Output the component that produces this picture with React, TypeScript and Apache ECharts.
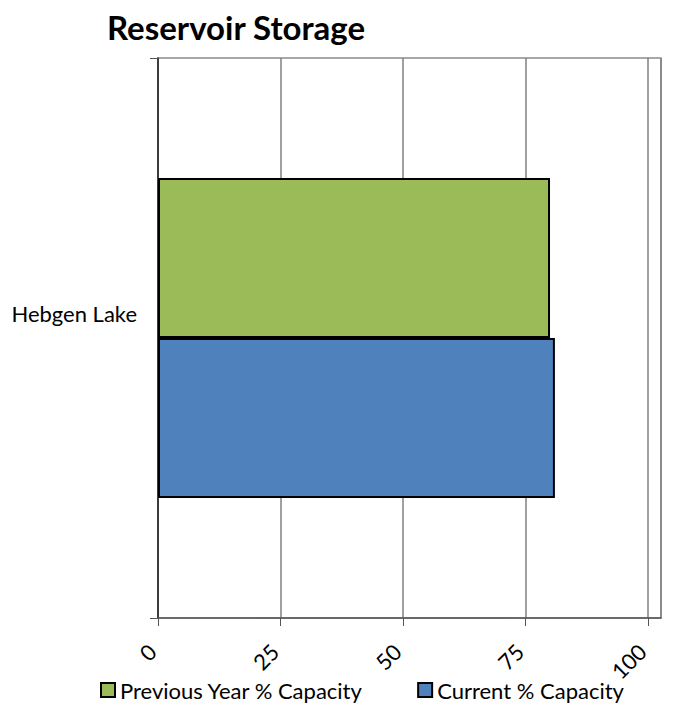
import React, { useEffect, useRef } from "react";
import * as echarts from "echarts";

const categories = ["Hebgen Lake"];
const previousYear = [80];
const current = [81];
const seriesNames = ["Previous Year % Capacity", "Current % Capacity"];
const FONT = "Lato, 'Open Sans', sans-serif";

export default function App() {
  const ref = useRef<HTMLDivElement>(null);
  useEffect(() => {
    const chart = echarts.init(ref.current!, null, { renderer: "svg" });
    chart.setOption({
      animation: false,
      backgroundColor: "#ffffff",
      title: {
        text: "Reservoir Storage",
        left: 102,
        top: 5,
        textStyle: { fontFamily: FONT, fontSize: 33, fontWeight: "bold", color: "#000" },
      },
      legend: {
        data: seriesNames,
        left: 100,
        top: 679,
        padding: 0,
        icon: "rect",
        itemWidth: 14,
        itemHeight: 14,
        itemGap: 54,
        textStyle: { fontFamily: FONT, fontSize: 22, color: "#000" },
      },
      grid: { left: 158, top: 58, width: 503, height: 560, containLabel: false,
        show: true, borderColor: "#8c8c8c", borderWidth: 1.5 },
      xAxis: {
        type: "value",
        min: 0,
        max: 102.65,
        interval: 25,
        axisLine: { show: true, lineStyle: { color: "#555", width: 1.5 } },
        axisTick: { show: true, length: 8, lineStyle: { color: "#555" } },
        splitLine: { show: true, lineStyle: { color: "#808080", width: 1.5 } },
        axisLabel: {
          rotate: 45,
          margin: 24,
          padding: [0, 8, 0, 0],
          showMaxLabel: false,
          fontFamily: FONT,
          fontSize: 22,
          color: "#000",
        },
      },
      yAxis: {
        type: "category",
        data: categories,
        axisLine: { show: true, lineStyle: { color: "#222", width: 1.5 } },
        axisTick: { show: true, length: 8, lineStyle: { color: "#555" } },
        axisLabel: {
          fontFamily: FONT,
          fontSize: 22,
          color: "#000",
          margin: 21,
          lineHeight: 50,
          formatter: (v: string) => v + "\n ",
        },
      },
      series: [
        {
          name: seriesNames[0],
          type: "bar",
          data: previousYear,
          barGap: "0%",
          barCategoryGap: "42.9%",
          itemStyle: { color: "#9BBB59", borderColor: "#000", borderWidth: 2 },
        },
        {
          name: seriesNames[1],
          type: "bar",
          data: current,
          barGap: "0%",
          barCategoryGap: "42.9%",
          itemStyle: { color: "#4F81BD", borderColor: "#000", borderWidth: 2 },
        },
      ],
    });
    return () => chart.dispose();
  }, []);
  return (
    <div
      ref={ref}
      style={{ position: "fixed", left: 0, top: 0, width: 675, height: 708 }}
    />
  );
}
